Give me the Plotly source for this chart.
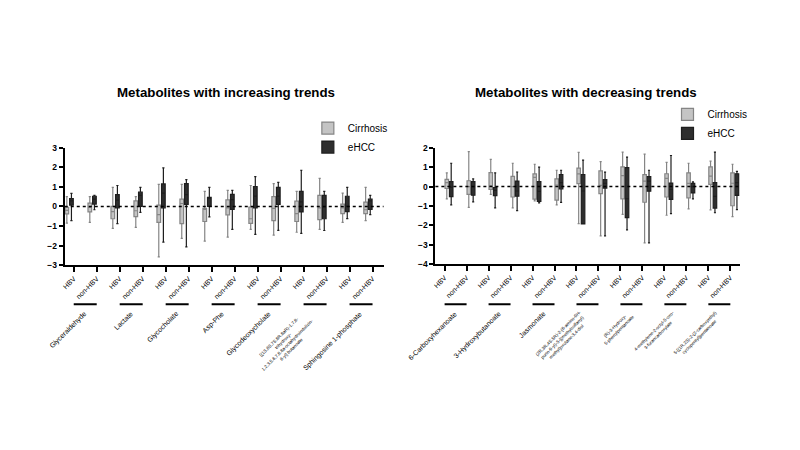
import plotly.graph_objects as go

# metabolite groups and sub-categories for each panel
inc_groups = ["Glyceraldehyde", "Lactate", "Glycocholate", "Asp-Phe", "Glycodeoxycholate",
              "[(1S,6S,7S,8R,8aR)-1,7,8-<br>trihydroxy-<br>1,2,3,5,6,7,8,8a-octahydroindolizin-<br>6-yl] butanoate",
              "Sphingosine 1-phosphate"]
dec_groups = ["6-Carboxyhexanoate", "3-Hydroxybutanoate", "Jasmonate",
              "(2R,3R,4S,5R)-2-(6-amino-9H-<br>purin-9-yl)-5-[(methylsulfanyl)<br>methyl]oxolane-3,4-diol",
              "(R)-3-Hydroxy-<br>5-phenylpentanoate",
              "4-methylene-2-octyl-5-oxo-<br>3-furancarboxylate",
              "5-[(1R,2S)-2-(2-carboxyethyl)<br>cyclopentyl]pentanoate"]
subgroups = ["HBV", "non-HBV"]

# (lower whisker, q1, median, q3, upper whisker) per tick
inc_cirrhosis = [(-0.85, -0.38, -0.2, -0.05, 0.5), (-0.82, -0.28, -0.05, 0.17, 0.5),
                 (-1.12, -0.63, -0.27, 0.0, 0.97), (-1.07, -0.52, -0.22, 0.28, 0.5),
                 (-2.58, -0.82, -0.42, 0.07, 1.13), (-1.63, -0.88, 0.15, 0.37, 1.13),
                 (-1.77, -0.77, -0.15, -0.1, 0.77), (-1.57, -0.43, -0.07, 0.33, 0.82),
                 (-1.17, -0.87, -0.63, -0.03, 1.07), (-1.47, -0.73, -0.1, 0.5, 1.17),
                 (-1.32, -0.77, -0.37, 0.27, 0.77), (-1.17, -0.67, -0.07, 0.57, 1.43),
                 (-0.82, -0.37, -0.07, 0.12, 0.68), (-0.73, -0.37, -0.17, 0.22, 0.97)]
inc_ehcc = [(-0.73, 0.07, 0.28, 0.4, 0.67), (-0.17, 0.12, 0.37, 0.52, 0.57),
            (-0.88, -0.08, 0.32, 0.6, 1.07), (-0.3, 0.0, 0.57, 0.73, 0.97),
            (-1.83, -0.07, 0.68, 1.15, 1.97), (-2.07, 0.1, 0.6, 1.17, 1.37),
            (-0.53, 0.0, 0.42, 0.47, 0.97), (-1.17, -0.15, 0.35, 0.62, 0.82),
            (-1.43, -0.08, 0.53, 1.02, 1.52), (-1.22, 0.1, 0.53, 0.97, 1.23),
            (-1.38, -0.28, 0.23, 0.77, 1.85), (-1.23, -0.63, -0.03, 0.57, 0.77),
            (-0.62, -0.27, 0.0, 0.52, 0.97), (-0.42, -0.15, 0.28, 0.37, 0.57)]
dec_cirrhosis = [(-0.64, -0.1, 0.2, 0.37, 0.7), (-1.07, -0.4, 0.0, 0.3, 1.8),
                 (-0.4, -0.15, 0.03, 0.72, 1.4), (-1.1, -0.54, 0.0, 0.52, 1.2),
                 (-0.74, -0.65, 0.47, 0.65, 1.15), (-0.95, -0.7, 0.08, 0.4, 0.84),
                 (-1.91, 0.15, 0.65, 0.95, 1.76), (-2.54, -0.36, 0.06, 0.81, 1.28),
                 (-1.43, -0.64, 0.56, 1.01, 1.77), (-2.9, -0.81, 0.28, 0.61, 1.67),
                 (-1.48, -0.54, 0.42, 0.66, 1.25), (-1.15, -0.58, 0.16, 0.71, 1.2),
                 (-1.2, 0.11, 0.54, 1.01, 1.31), (-1.55, -0.99, 0.17, 0.71, 1.15)]
dec_ehcc = [(-0.95, -0.52, -0.03, 0.25, 1.2), (-0.79, -0.45, 0.0, 0.25, 0.4),
            (-1.1, -0.47, -0.2, -0.05, 0.7), (-1.24, -0.5, -0.23, 0.28, 0.75),
            (-0.84, -0.76, -0.25, 0.25, 1.0), (-0.82, -0.12, 0.2, 0.62, 0.84),
            (-1.93, -1.93, -0.23, 0.62, 1.36), (-2.54, -0.08, 0.17, 0.36, 0.74),
            (-2.23, -1.6, -0.63, 0.98, 1.52), (-2.9, -0.24, 0.28, 0.51, 0.84),
            (-1.4, -0.66, -0.14, 0.18, 1.6), (-0.64, -0.33, 0.0, 0.16, 0.24),
            (-1.35, -1.11, -0.51, 0.2, 1.77), (-1.19, -0.46, 0.2, 0.66, 0.78)]

FONT = "Liberation Sans, Arial, sans-serif"
GREY_FILL, GREY_LINE = "#c4c4c4", "#858585"
DARK_FILL, DARK_LINE = "#2e2e2e", "#1e1e1e"


def box_trace(stats, name, fill, line, xa, ya, legend):
    pos = list(range(len(stats)))
    return go.Box(
        x=pos,
        lowerfence=[s[0] for s in stats], q1=[s[1] for s in stats],
        median=[s[2] for s in stats], q3=[s[3] for s in stats],
        upperfence=[s[4] for s in stats],
        name=name, fillcolor=fill, line=dict(color=line, width=1.2),
        whiskerwidth=0.6, boxpoints=False, hoverinfo="skip",
        xaxis=xa, yaxis=ya, legend=legend,
    )


fig = go.Figure()
fig.add_trace(box_trace(inc_cirrhosis, "Cirrhosis", GREY_FILL, GREY_LINE, "x", "y", "legend"))
fig.add_trace(box_trace(inc_ehcc, "eHCC", DARK_FILL, DARK_LINE, "x", "y", "legend"))
fig.add_trace(box_trace(dec_cirrhosis, "Cirrhosis", GREY_FILL, GREY_LINE, "x2", "y2", "legend2"))
fig.add_trace(box_trace(dec_ehcc, "eHCC", DARK_FILL, DARK_LINE, "x2", "y2", "legend2"))

line_y = 1 - 306 / 450  # group underline, paper coords

shapes = []
annotations = []
for xa, ya, groups in (("x", "y", inc_groups), ("x2", "y2", dec_groups)):
    # dotted zero line
    shapes.append(dict(type="line", xref=xa + " domain", yref=ya, x0=0, x1=1, y0=0, y1=0,
                       line=dict(color="black", width=1.5, dash="dot")))
    for k, g in enumerate(groups):
        shapes.append(dict(type="line", xref=xa, yref="paper", x0=2 * k, x1=2 * k + 1,
                           y0=line_y, y1=line_y, line=dict(color="black", width=2)))
        multi = "<br>" in g
        annotations.append(dict(text=g, xref=xa, yref="paper", x=2 * k + 0.5, y=line_y,
                                xanchor="right", yanchor="top", textangle=-45, showarrow=False,
                                xshift=6, yshift=-3, align="center",
                                font=dict(family=FONT, size=4.5 if multi else 7, color="black")))

annotations.append(dict(text="<b>Metabolites with increasing trends</b>", xref="paper", yref="paper",
                        x=224 / 800, y=1 - 90 / 450, xanchor="center", yanchor="middle", showarrow=False,
                        font=dict(family=FONT, size=13.3, color="black")))
annotations.append(dict(text="<b>Metabolites with decreasing trends</b>", xref="paper", yref="paper",
                        x=585 / 800, y=1 - 90 / 450, xanchor="center", yanchor="middle", showarrow=False,
                        font=dict(family=FONT, size=13.3, color="black")))

n = len(inc_cirrhosis)
xcommon = dict(tickmode="array", tickvals=list(range(n)), ticktext=subgroups * (n // 2),
               tickangle=-45, tickfont=dict(family=FONT, size=7, color="black"),
               showline=True, linecolor="black", linewidth=2, ticks="outside", ticklen=5,
               tickwidth=1.5, tickcolor="black", showgrid=False, zeroline=False, fixedrange=True)
ycommon = dict(tickmode="linear", dtick=1, tickfont=dict(family=FONT, size=8.5, color="black", weight="bold"),
               showline=True, linecolor="black", linewidth=2, ticks="outside", ticklen=4,
               tickwidth=1.5, tickcolor="black", showgrid=False, zeroline=False)

fig.update_layout(
    width=800, height=450, autosize=False,
    margin=dict(l=0, r=0, t=0, b=0),
    paper_bgcolor="white", plot_bgcolor="white",
    boxmode="group", boxgap=0.2, boxgroupgap=0.2,
    xaxis=dict(domain=[62 / 800, 382 / 800], range=[-0.39, 13.48], anchor="y", **xcommon),
    yaxis=dict(domain=[1 - 266 / 450, 1 - 146 / 450], range=[-3, 3], anchor="x", **ycommon),
    xaxis2=dict(domain=[434 / 800, 740 / 800], range=[-0.42, 13.45], anchor="y2", **xcommon),
    yaxis2=dict(domain=[1 - 265 / 450, 1 - 146 / 450], range=[-4, 2], anchor="x2", **ycommon),
    legend=dict(x=306 / 800, y=1 - 111 / 450, xanchor="left", yanchor="top",
                font=dict(family=FONT, size=10, color="black"), bgcolor="rgba(0,0,0,0)",
                tracegroupgap=0),
    legend2=dict(x=667 / 800, y=1 - 97 / 450, xanchor="left", yanchor="top",
                 font=dict(family=FONT, size=10, color="black"), bgcolor="rgba(0,0,0,0)",
                 tracegroupgap=0),
    shapes=shapes, annotations=annotations, showlegend=True,
)

# drop the default page margin so the figure sits at the window's top-left
fig.write_html("out.html", config={"displayModeBar": False},
               post_script="document.body.style.margin='0';")
